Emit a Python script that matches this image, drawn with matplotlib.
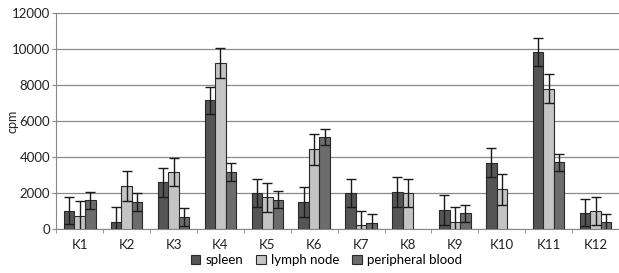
import matplotlib.pyplot as plt
import numpy as np

plt.rcParams['font.family'] = ['Lato', 'DejaVu Sans']

categories = ['K1', 'K2', 'K3', 'K4', 'K5', 'K6', 'K7', 'K8', 'K9', 'K10', 'K11', 'K12']
series_names = ['spleen', 'lymph node', 'peripheral blood']

spleen = [1020, 400, 2600, 7150, 2000, 1520, 2000, 2075, 1055, 3690, 9820, 910]
spleen_err = [750, 800, 800, 760, 800, 830, 800, 830, 830, 800, 780, 760]
lymph = [700, 2400, 3170, 9230, 1760, 4430, 220, 2000, 400, 2200, 7800, 1020]
lymph_err = [850, 840, 800, 850, 800, 850, 800, 800, 800, 840, 800, 780]
blood = [1600, 1520, 690, 3150, 1630, 5110, 315, np.nan, 870, np.nan, 3710, 370]
blood_err = [480, 500, 500, 500, 480, 450, 500, np.nan, 480, np.nan, 480, 480]

colors = ['#555555', '#c4c4c4', '#6c6c6c']

fig = plt.figure(figsize=(6.19, 2.73), dpi=100)
ax = fig.add_axes([0.091, 0.161, 0.909, 0.791])

x = np.arange(len(categories))
w = 0.225
for i, (vals, errs) in enumerate([(spleen, spleen_err), (lymph, lymph_err), (blood, blood_err)]):
    ax.bar(x + (i - 1) * w, vals, w, color=colors[i], edgecolor='#2a2a2a',
           linewidth=0.8, label=series_names[i], zorder=3)
    ax.errorbar(x + (i - 1) * w, vals, yerr=errs, fmt='none', ecolor='#1a1a1a',
                elinewidth=1.0, capsize=3.5, capthick=1.0, zorder=4)

ax.set_xlim(-0.5, len(categories) - 0.5)
ax.set_ylim(0, 12000)
ax.set_yticks(np.arange(0, 12001, 2000))
ax.set_xticks(x)
ax.set_xticklabels(categories)
ax.set_xticks(np.arange(-0.5, len(categories)), minor=True)
ax.tick_params(axis='x', which='major', length=0, pad=7, labelsize=9.5, colors='#222222')
ax.tick_params(axis='x', which='minor', length=3, color='#888888')
ax.tick_params(axis='y', length=3, pad=1.5, color='#888888', labelsize=9.5, colors='#222222')
ax.yaxis.grid(True, color='#8a8a8a', linewidth=0.9, zorder=0)
for s in ['top', 'right']:
    ax.spines[s].set_visible(False)
for s in ['left', 'bottom']:
    ax.spines[s].set_color('#888888')
ax.set_ylabel('cpm', fontsize=9, color='#222222')
ax.yaxis.set_label_coords(-0.068, 0.5)

ax.legend(loc='upper center', bbox_to_anchor=(0.48, -0.06), ncol=3, frameon=False,
          fontsize=9.5, handlelength=0.7, handleheight=0.7, handletextpad=0.4,
          columnspacing=1.0)

fig.savefig('out.png', dpi=100)
